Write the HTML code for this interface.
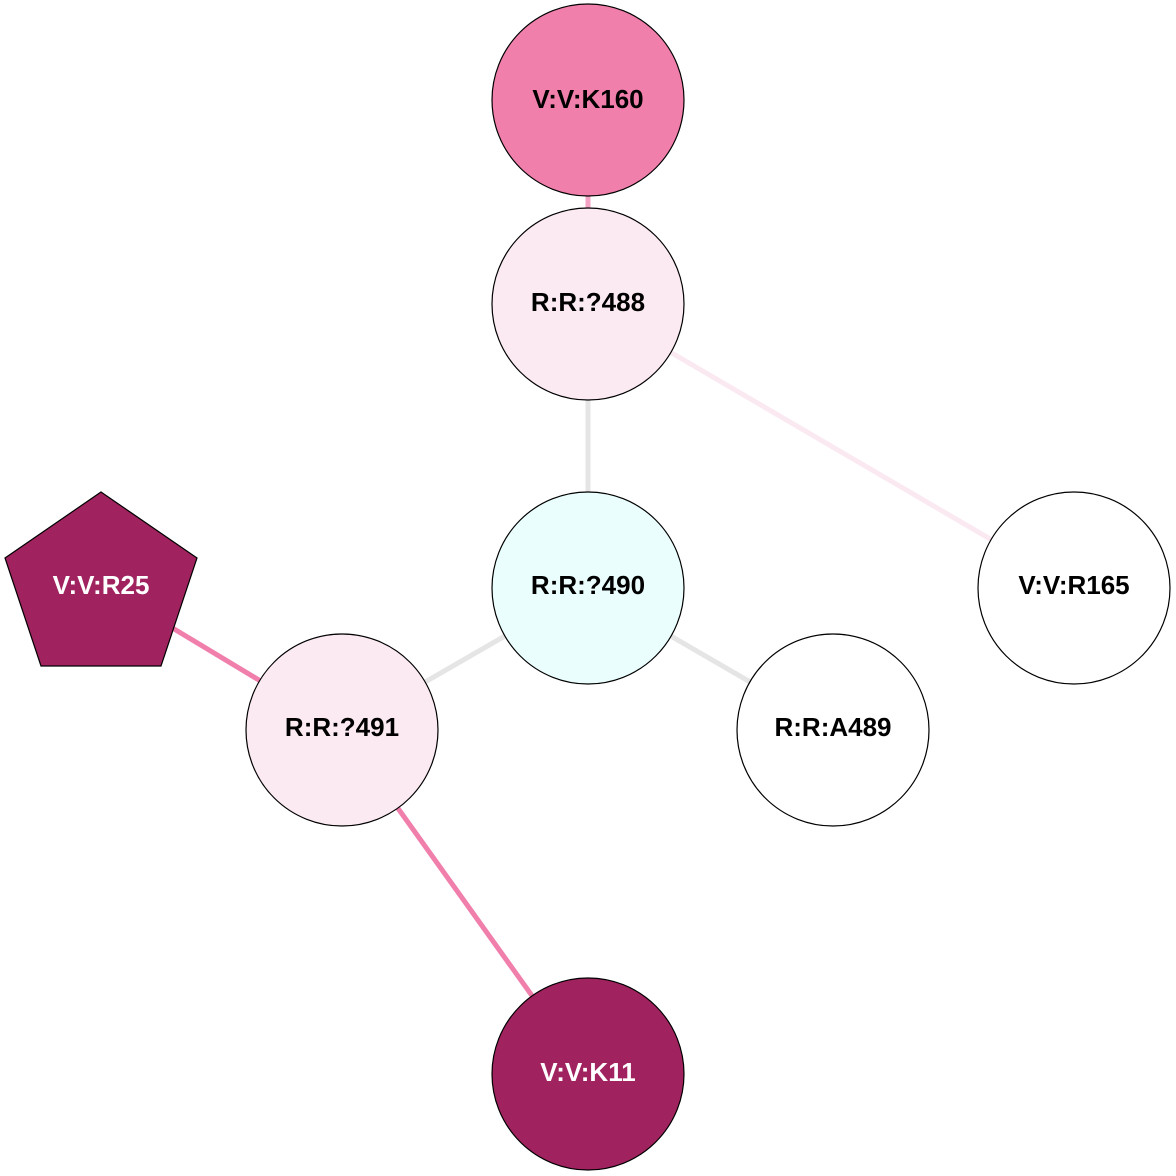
<!DOCTYPE html>
<html><head><meta charset="utf-8"><style>html,body{margin:0;padding:0;background:#fff}svg{display:block}</style></head>
<body>
<svg width="1176" height="1176" viewBox="0 0 1176 1176" xmlns="http://www.w3.org/2000/svg">
<g stroke-width="5" stroke-linecap="butt">
<line x1="588" y1="100" x2="588" y2="304" stroke="#f4a3c4"/>
<line x1="588" y1="304" x2="1074" y2="588" stroke="#fbe9f1"/>
<line x1="588" y1="304" x2="588" y2="588" stroke="#e5e5e5"/>
<line x1="588" y1="588" x2="342" y2="730" stroke="#e5e5e5"/>
<line x1="588" y1="588" x2="833" y2="730" stroke="#e5e5e5"/>
<line x1="101" y1="585" x2="342" y2="730" stroke="#f07fac"/>
<line x1="342" y1="730" x2="588" y2="1074" stroke="#f07fac"/>
</g>
<g stroke="#000" stroke-width="1.2">
<circle cx="588" cy="100" r="96" fill="#f07fac"/>
<circle cx="588" cy="304" r="96" fill="#fbeaf2"/>
<circle cx="588" cy="588" r="96" fill="#eafefe"/>
<circle cx="1074" cy="588" r="96" fill="#fff"/>
<circle cx="833" cy="730" r="96" fill="#fff"/>
<circle cx="342" cy="730" r="96" fill="#fbeaf2"/>
<circle cx="588" cy="1074" r="96" fill="#a0235f"/>
<polygon points="101,492 197,558 161,666 41,666 5,558" fill="#a0235f"/>
</g>
<g font-family="Liberation Sans, Arial, sans-serif" font-weight="bold" font-size="26" text-anchor="middle">
<text x="588" y="108">V:V:K160</text>
<text x="588" y="311">R:R:?488</text>
<text x="588" y="594">R:R:?490</text>
<text x="1074" y="594">V:V:R165</text>
<text x="833" y="736">R:R:A489</text>
<text x="342" y="736">R:R:?491</text>
<text x="588" y="1081" fill="#fff">V:V:K11</text>
<text x="101" y="594" fill="#fff">V:V:R25</text>
</g>
</svg>
</body></html>
